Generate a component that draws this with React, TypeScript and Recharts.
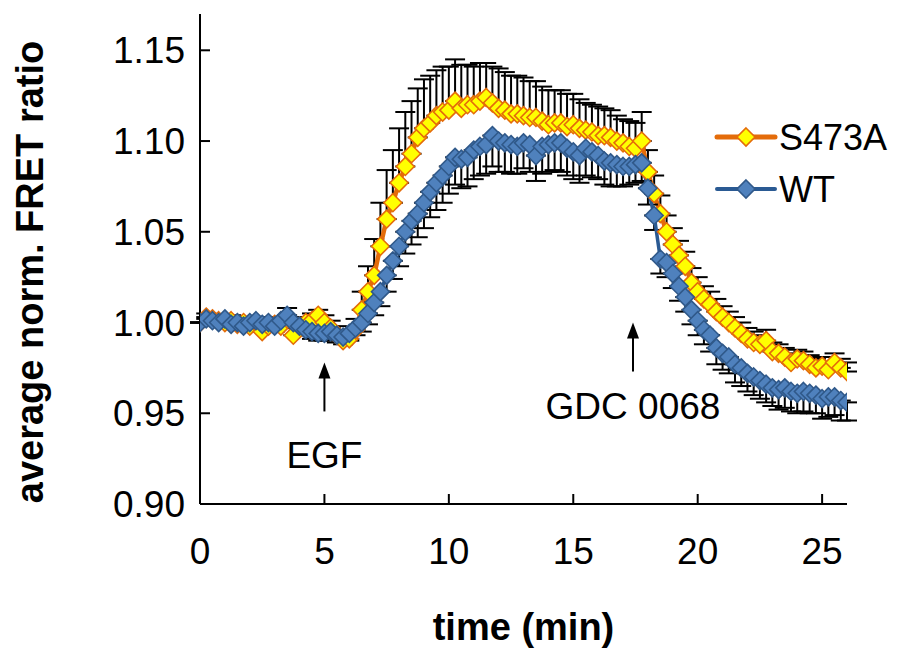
import { LineChart, Line, XAxis, YAxis, ErrorBar, ReferenceDot, Label } from 'recharts';

const FONT = '"Liberation Sans", Arial, sans-serif';
const ORANGE = '#e46c0a';
const YELLOW = '#ffff00';
const BLUE_LINE = '#2a5a93';
const BLUE_FILL = '#4f81bd';
const BLUE_EDGE = '#30598a';

// time in minutes, one frame every 15 s
const TIME = [
  0, 0.25, 0.5, 0.75, 1, 1.25, 1.5, 1.75,
  2, 2.25, 2.5, 2.75, 3, 3.25, 3.5, 3.75,
  4, 4.25, 4.5, 4.75, 5, 5.25, 5.5, 5.75,
  6, 6.25, 6.5, 6.75, 7, 7.25, 7.5, 7.75,
  8, 8.25, 8.5, 8.75, 9, 9.25, 9.5, 9.75,
  10, 10.25, 10.5, 10.75, 11, 11.25, 11.5, 11.75,
  12, 12.25, 12.5, 12.75, 13, 13.25, 13.5, 13.75,
  14, 14.25, 14.5, 14.75, 15, 15.25, 15.5, 15.75,
  16, 16.25, 16.5, 16.75, 17, 17.25, 17.5, 17.75,
  18, 18.25, 18.5, 18.75, 19, 19.25, 19.5, 19.75,
  20, 20.25, 20.5, 20.75, 21, 21.25, 21.5, 21.75,
  22, 22.25, 22.5, 22.75, 23, 23.25, 23.5, 23.75,
  24, 24.25, 24.5, 24.75, 25, 25.25, 25.5, 25.75,
  26,
];

const S473A = [
  1.000, 1.003, 1.002, 1.001, 1.000, 1.001, 0.999, 1.000,
  0.998, 1.000, 0.995, 0.998, 0.999, 0.998, 1.002, 0.993,
  0.998, 1.000, 1.001, 1.004, 1.000, 0.997, 0.993, 0.990,
  0.991, 0.996, 1.007, 1.017, 1.026, 1.042, 1.057, 1.066,
  1.077, 1.086, 1.093, 1.102, 1.107, 1.110, 1.114, 1.116,
  1.117, 1.122, 1.118, 1.120, 1.120, 1.122, 1.124, 1.121,
  1.118, 1.117, 1.115, 1.115, 1.114, 1.113, 1.113, 1.111,
  1.109, 1.110, 1.110, 1.108, 1.109, 1.107, 1.106, 1.105,
  1.103, 1.103, 1.102, 1.100, 1.099, 1.097, 1.096, 1.100,
  1.083, 1.071, 1.060, 1.050, 1.043, 1.037, 1.031, 1.022,
  1.017, 1.013, 1.010, 1.006, 1.003, 1.000, 0.997, 0.994,
  0.991, 0.989, 0.988, 0.990, 0.984, 0.983, 0.981, 0.978,
  0.980, 0.979, 0.977, 0.975, 0.976, 0.974, 0.978, 0.975,
  0.973,
];

const WT = [
  1.000, 1.002, 1.001, 1.000, 1.002, 0.999, 1.000, 0.998,
  1.000, 1.001, 0.999, 1.000, 0.998, 1.001, 1.004, 1.000,
  0.998, 0.996, 0.995, 0.994, 0.994, 0.995, 0.993, 0.992,
  0.994, 0.997, 1.000, 1.005, 1.011, 1.017, 1.026, 1.034,
  1.042, 1.050, 1.056, 1.060, 1.066, 1.072, 1.077, 1.081,
  1.086, 1.091, 1.090, 1.091, 1.095, 1.097, 1.098, 1.103,
  1.100, 1.099, 1.098, 1.097, 1.099, 1.098, 1.092, 1.097,
  1.098, 1.099, 1.099, 1.096, 1.094, 1.092, 1.096, 1.094,
  1.092, 1.089, 1.088, 1.087, 1.086, 1.086, 1.087, 1.088,
  1.074, 1.059, 1.035, 1.033, 1.027, 1.020, 1.014, 1.007,
  1.001, 0.996, 0.993, 0.986, 0.983, 0.981, 0.977, 0.975,
  0.972, 0.970, 0.968, 0.966, 0.964, 0.963, 0.964, 0.962,
  0.961, 0.962, 0.961, 0.960, 0.958, 0.959, 0.959, 0.957,
  0.956,
];

// S473A shows only the upper error, WT only the lower one
const S473A_ERR = [
  0, 0.002, 0.002, 0.003, 0.002, 0.003, 0.003, 0.002,
  0.003, 0.003, 0.004, 0.003, 0.004, 0.005, 0.006, 0.004,
  0.004, 0.003, 0.004, 0.003, 0.004, 0.004, 0.005, 0.004,
  0.004, 0.006, 0.010, 0.014, 0.020, 0.024, 0.027, 0.029,
  0.030, 0.030, 0.029, 0.027, 0.027, 0.026, 0.025, 0.025,
  0.024, 0.023, 0.024, 0.022, 0.021, 0.021, 0.019, 0.020,
  0.022, 0.021, 0.021, 0.021, 0.021, 0.020, 0.020, 0.019,
  0.019, 0.018, 0.018, 0.018, 0.017, 0.016, 0.015, 0.015,
  0.016, 0.015, 0.015, 0.014, 0.013, 0.014, 0.014, 0.016,
  0.012, 0.010, 0.010, 0.009, 0.009, 0.008, 0.008, 0.008,
  0.008, 0.007, 0.007, 0.007, 0.006, 0.006, 0.006, 0.006,
  0.006, 0.006, 0.005, 0.006, 0.005, 0.005, 0.005, 0.005,
  0.005, 0.005, 0.005, 0.005, 0.005, 0.004, 0.005, 0.005,
  0.005,
];

const WT_ERR = [
  0, 0.002, 0.002, 0.002, 0.003, 0.002, 0.003, 0.002,
  0.003, 0.002, 0.003, 0.003, 0.003, 0.003, 0.004, 0.003,
  0.003, 0.003, 0.004, 0.004, 0.004, 0.004, 0.004, 0.004,
  0.004, 0.004, 0.005, 0.006, 0.007, 0.008, 0.009, 0.010,
  0.011, 0.012, 0.013, 0.013, 0.014, 0.014, 0.015, 0.015,
  0.015, 0.015, 0.016, 0.016, 0.016, 0.016, 0.016, 0.017,
  0.017, 0.016, 0.016, 0.015, 0.014, 0.015, 0.014, 0.015,
  0.015, 0.015, 0.016, 0.015, 0.015, 0.015, 0.015, 0.014,
  0.013, 0.013, 0.013, 0.012, 0.011, 0.010, 0.010, 0.010,
  0.009, 0.008, 0.008, 0.008, 0.008, 0.008, 0.008, 0.008,
  0.008, 0.008, 0.009, 0.009, 0.009, 0.009, 0.010, 0.010,
  0.010, 0.010, 0.010, 0.010, 0.010, 0.011, 0.011, 0.011,
  0.011, 0.011, 0.011, 0.010, 0.011, 0.011, 0.010, 0.011,
  0.010,
];

const X_TICKS = [0, 5, 10, 15, 20, 25];
const Y_TICKS = [0.9, 0.95, 1.0, 1.05, 1.1, 1.15];

const data = TIME.map((t, i) => ({
  t,
  s473a: S473A[i],
  wt: WT[i],
  s473aErr: [0, S473A_ERR[i]],
  wtErr: [WT_ERR[i], 0],
}));

function diamond(fill: string, stroke: string, r: number) {
  return (props: any) => {
    const { cx, cy, index } = props;
    if (cx == null || cy == null) return <g key={index} />;
    return (
      <path
        key={index}
        d={`M${cx},${cy - r}L${cx + r},${cy}L${cx},${cy + r}L${cx - r},${cy}Z`}
        fill={fill}
        stroke={stroke}
        strokeWidth={1.6}
      />
    );
  };
}

function arrowNote(text: string, textGap: number) {
  return (props: any) => {
    const { cx, cy } = props;
    return (
      <g>
        <line x1={cx} y1={cy + 12} x2={cx} y2={cy + 49} stroke="#000" strokeWidth={2} />
        <path d={`M${cx},${cy}L${cx + 6},${cy + 16}L${cx - 6},${cy + 16}Z`} fill="#000" />
        <text x={cx} y={cy + textGap} textAnchor="middle" fontFamily={FONT} fontSize={37} fill="#000">
          {text}
        </text>
      </g>
    );
  };
}

const LEGEND_ITEMS = [
  { name: 'S473A', line: ORANGE, lineWidth: 5, fill: YELLOW, edge: ORANGE },
  { name: 'WT', line: BLUE_LINE, lineWidth: 4, fill: BLUE_FILL, edge: BLUE_EDGE },
];

function LegendBox() {
  return (
    <svg width={190} height={110} style={{ position: 'absolute', left: 712, top: 110 }}>
      {LEGEND_ITEMS.map((it, i) => {
        const y = 27 + i * 52;
        return (
          <g key={it.name}>
            <line x1={5} y1={y} x2={63} y2={y} stroke={it.line} strokeWidth={it.lineWidth} strokeLinecap="round" />
            <path d={`M34,${y - 9}L43,${y}L34,${y + 9}L25,${y}Z`} fill={it.fill} stroke={it.edge} strokeWidth={1.6} />
            <text x={67} y={y + 13} fontFamily={FONT} fontSize={36} fill="#000">{it.name}</text>
          </g>
        );
      })}
    </svg>
  );
}

export default function App() {
  return (
    <div style={{ position: 'absolute', left: 0, top: 0, width: 903, height: 648, background: '#fff' }}>
      <LineChart width={903} height={648} data={data} margin={{ top: 14, right: 56, bottom: 84, left: 0 }}>
        <XAxis
          dataKey="t"
          type="number"
          domain={[0, 26]}
          ticks={X_TICKS}
          allowDataOverflow
          height={60}
          tickSize={-10}
          tickMargin={44}
          axisLine={{ stroke: '#000', strokeWidth: 2 }}
          tickLine={{ stroke: '#000', strokeWidth: 2 }}
          tick={{ fill: '#000', fontSize: 37, fontFamily: FONT }}
        >
          <Label
            value="time (min)"
            position="bottom"
            offset={49}
            style={{ fontWeight: 'bold', fontSize: 38, fontFamily: FONT, fill: '#000' }}
          />
        </XAxis>
        <YAxis
          type="number"
          domain={[0.9, 1.17]}
          ticks={Y_TICKS}
          allowDataOverflow
          width={200}
          tickSize={-10}
          tickMargin={25}
          tickFormatter={(v: number) => v.toFixed(2)}
          axisLine={{ stroke: '#000', strokeWidth: 2 }}
          tickLine={{ stroke: '#000', strokeWidth: 2 }}
          tick={{ fill: '#000', fontSize: 37, fontFamily: FONT }}
        >
          <Label
            content={(p: any) => {
              const vb = p.viewBox || { x: 0, y: 14, height: 490 };
              const cx = vb.x + 30;
              const cy = vb.y + vb.height / 2 + 13;
              return (
                <text
                  x={cx}
                  y={cy}
                  transform={`rotate(-90 ${cx} ${cy})`}
                  textAnchor="middle"
                  dominantBaseline="central"
                  fontFamily={FONT}
                  fontSize={38}
                  fontWeight="bold"
                  fill="#000"
                >
                  average norm. FRET ratio
                </text>
              );
            }}
          />
        </YAxis>
        <Line
          dataKey="s473a"
          name="S473A"
          type="linear"
          stroke={ORANGE}
          strokeWidth={4.5}
          dot={diamond(YELLOW, ORANGE, 9)}
          activeDot={false}
          isAnimationActive={false}
        >
          <ErrorBar dataKey="s473aErr" direction="y" width={10} stroke="#000" strokeWidth={2} isAnimationActive={false} />
        </Line>
        <Line
          dataKey="wt"
          name="WT"
          type="linear"
          stroke={BLUE_LINE}
          strokeWidth={3.5}
          dot={diamond(BLUE_FILL, BLUE_EDGE, 9)}
          activeDot={false}
          isAnimationActive={false}
        >
          <ErrorBar dataKey="wtErr" direction="y" width={10} stroke="#000" strokeWidth={2} isAnimationActive={false} />
        </Line>
        <ReferenceDot x={5} y={0.978} r={0} shape={arrowNote('EGF', 106)} />
        <ReferenceDot x={17.4} y={1.0} r={0} shape={arrowNote('GDC 0068', 96)} />
      </LineChart>
      <LegendBox />
    </div>
  );
}
